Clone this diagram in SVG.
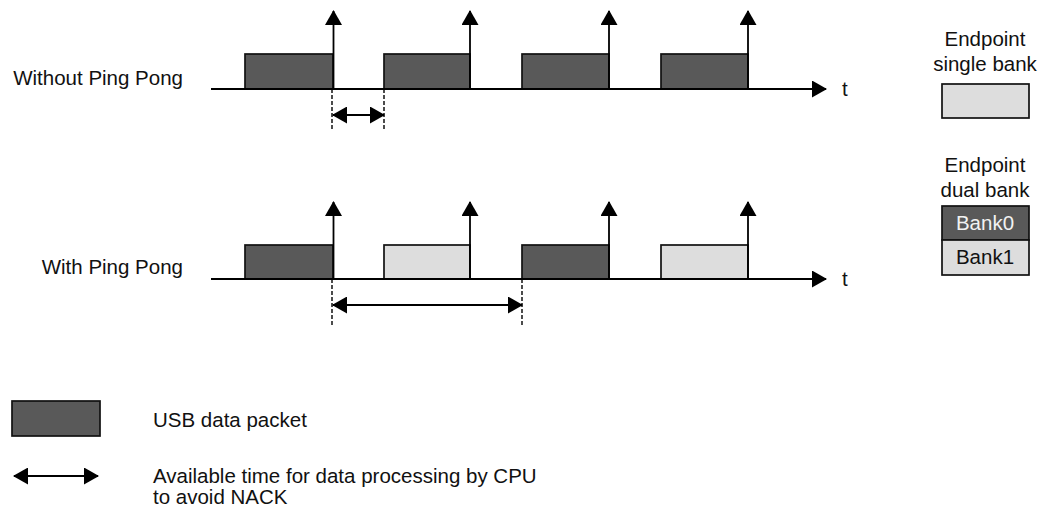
<svg xmlns="http://www.w3.org/2000/svg" width="1042" height="510" viewBox="0 0 1042 510">
<style>
text{font-family:"Liberation Sans",Arial,sans-serif;font-size:20.5px;fill:#111}
.dark{fill:#595959;stroke:#111;stroke-width:1.7}
.light{fill:#dddddd;stroke:#111;stroke-width:1.7}
.dash{stroke:#000;stroke-width:1.4;stroke-dasharray:4 2;fill:none}
.arr{stroke:#000;stroke-width:1.8;fill:none;marker-end:url(#tri)}
.dbl{stroke:#000;stroke-width:1.8;fill:none;marker-end:url(#tri);marker-start:url(#tri)}
.mid{text-anchor:middle}
.end{text-anchor:end}
</style>
<defs>
<marker id="tri" markerUnits="userSpaceOnUse" markerWidth="15" markerHeight="17" viewBox="0 0 15 17" refX="14" refY="8.5" orient="auto-start-reverse">
<path d="M0,0 L15,8.5 L0,17 z" fill="#000"/>
</marker>
</defs>
<rect width="1042" height="510" fill="#fff"/>

<g id="label-without"><text class="end" x="183" y="85">Without Ping Pong</text></g>
<g id="label-with"><text class="end" x="183" y="274">With Ping Pong</text></g>

<g id="row1-packets">
<rect class="dark" x="245" y="54" width="88" height="35"/>
<rect class="dark" x="384" y="54" width="86" height="35"/>
<rect class="dark" x="522" y="54" width="87" height="35"/>
<rect class="dark" x="661" y="54" width="87" height="35"/>
</g>
<g id="row2-packets">
<rect class="dark" x="245" y="245" width="88" height="34"/>
<rect class="light" x="384" y="245" width="86" height="34"/>
<rect class="dark" x="522" y="245" width="87" height="34"/>
<rect class="light" x="661" y="245" width="87" height="34"/>
</g>

<g id="t1"><text x="842" y="96">t</text></g>
<g id="t2"><text x="842" y="286">t</text></g>

<g id="single-bank">
<text class="mid" x="985" y="46">Endpoint</text>
<text class="mid" x="985" y="71">single bank</text>
<rect class="light" x="942" y="84" width="87" height="34"/>
</g>
<g id="dual-bank">
<text class="mid" x="985" y="172">Endpoint</text>
<text class="mid" x="985" y="197">dual bank</text>
<rect class="dark" x="942" y="206" width="87" height="34"/>
<rect class="light" x="942" y="240" width="87" height="35"/>
<text class="mid" x="985" y="230" style="fill:#f2f2f2">Bank0</text>
<text class="mid" x="985" y="264">Bank1</text>
</g>

<g id="legend-packet">
<rect class="dark" x="12" y="401" width="88" height="35"/>
<text x="153" y="427">USB data packet</text>
</g>
<g id="legend-time">
<path class="dbl" d="M14,476 H98"/>
<text x="153" y="483">Available time for data processing by CPU</text>
<text x="153" y="504">to avoid NACK</text>
</g>

<g id="connectors">
<path class="arr" d="M211,89 H826"/>
<path class="arr" d="M211,279 H826"/>
<path class="arr" d="M333.5,89 V11"/>
<path class="arr" d="M470,89 V11"/>
<path class="arr" d="M609,89 V11"/>
<path class="arr" d="M748,89 V11"/>
<path class="arr" d="M333.5,279 V202"/>
<path class="arr" d="M470,279 V202"/>
<path class="arr" d="M609,279 V202"/>
<path class="arr" d="M748,279 V202"/>
<path class="dash" d="M332,89 V131 M384,89 V131"/>
<path class="dash" d="M332,279 V326 M522,279 V326"/>
<path class="dbl" d="M333,115 H384"/>
<path class="dbl" d="M333,305 H522"/>
</g>
</svg>
